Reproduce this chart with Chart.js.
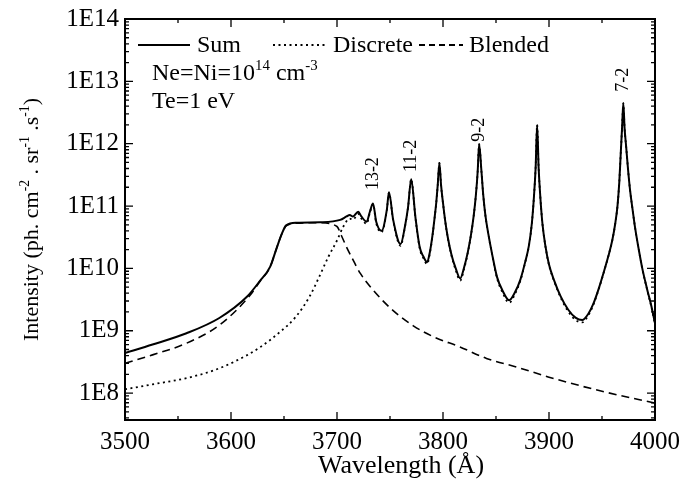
<!DOCTYPE html>
<html>
<head>
<meta charset="utf-8">
<script src="https://cdn.jsdelivr.net/npm/chart.js"></script>
<style>
	body { margin:0; background:#fff; }
	canvas { display:block; }
</style>
</head>
<body>
<canvas id="c" width="682" height="489"></canvas>
<script>
// wavelength (A) and intensity
const sumWl = [
	3500,3526,3558,3589,3615,3627,3637,3643,3648,3652,
	3662,3684,3703,3709,3712,3715,3720,3723,3728,3731,
	3734,3737,3742,3747,3749,3753,3760,3764,3767,3770,
	3774,3778,3781.5,3785,3787.5,3790,3792,3793.6,3795,3796.6,
	3798.2,3800,3802,3804.5,3808,3812,3816.2,3820,3823.5,3826.5,
	3829,3831,3832.7,3834.1,3836.3,3838,3840,3842.8,3846.2,3851,
	3856,3862.4,3868,3873,3877.5,3881,3883.8,3885.8,3887.4,3888.8,
	3890.2,3891.8,3893.8,3896.6,3900,3905,3911,3918,3925,3931.3,
	3937,3942,3947,3951.5,3956,3959.7,3962.5,3964.6,3966.3,3967.7,
	3969,3970.1,3971.3,3972.8,3974.5,3976.5,3978.8,3981.5,3984.5,3988,
	3992.5,3996.5,4000]
const sumI = [
	4.4e8,6.0e8,9.1e8,1.6e9,3.5e9,6.2e9,1.07e10,2.1e10,3.6e10,4.9e10,
	5.4e10,5.5e10,6.0e10,6.8e10,7.2e10,6.8e10,8.1e10,6.8e10,5.6e10,8.1e10,
	1.1e11,5.6e10,4.0e10,8.7e10,1.66e11,6.0e10,2.45e10,4.6e10,9.5e10,2.7e11,
	6.6e10,2.2e10,1.55e10,1.26e10,1.78e10,3.31e10,6.31e10,1.12e11,2.14e11,4.9e11,
	2.14e11,1.12e11,5.9e10,3.16e10,1.66e10,1.0e10,6.9e9,1.05e10,1.86e10,3.55e10,
	7.08e10,1.48e11,3.55e11,9.8e11,3.55e11,1.48e11,7.08e10,3.55e10,1.74e10,7.24e9,
	4.47e9,3.09e9,4.17e9,6.61e9,1.26e10,2.29e10,5.25e10,1.41e11,4.17e11,2.0e12,
	4.17e11,1.41e11,5.25e10,2.29e10,1.15e10,6.31e9,3.55e9,2.19e9,1.62e9,1.48e9,
	1.86e9,2.75e9,4.79e9,8.51e9,1.58e10,2.82e10,5.25e10,1.0e11,2.4e11,7.08e11,
	1.9e12,4.47e12,1.78e12,8.91e11,3.98e11,1.78e11,8.91e10,4.17e10,2.09e10,1.0e10,
	4.68e9,2.51e9,1.32e9]

const discWl = [
	3500,3526,3558,3583,3604,3627,3646,3661,3674,3683,
	3692,3700,3706,3712,3715,3720,3723,3728,3731,3734,
	3737,3742,3747,3749,3753,3760,3764,3767,3770,3774,
	3778,3781.5,3785,3787.5,3790,3792,3793.6,3795,3796.6,3798.2,
	3800,3802,3804.5,3808,3812,3816.2,3820,3823.5,3826.5,3829,
	3831,3832.7,3834.1,3836.3,3838,3840,3842.8,3846.2,3851,3856,
	3862.4,3868,3873,3877.5,3881,3883.8,3885.8,3887.4,3888.8,3890.2,
	3891.8,3893.8,3896.6,3900,3905,3911,3918,3925,3931.3,3937,
	3942,3947,3951.5,3956,3959.7,3962.5,3964.6,3966.3,3967.7,3969,
	3970.1,3971.3,3972.8,3974.5,3976.5,3978.8,3981.5,3984.5,3988,3992.5,
	3996.5,4000]
const discI = [
	1.15e8,1.38e8,1.74e8,2.29e8,3.24e8,5.37e8,9.5e8,1.66e9,3.5e9,7.2e9,
	1.55e10,2.8e10,4.7e10,6.3e10,6.0e10,7.5e10,6.3e10,5.2e10,7.8e10,1.08e11,
	5.3e10,3.8e10,8.5e10,1.64e11,5.8e10,2.3e10,4.5e10,9.4e10,2.7e11,6.5e10,
	2.1e10,1.46e10,1.17e10,1.7e10,3.23e10,6.23e10,1.11e11,2.13e11,4.9e11,2.13e11,
	1.11e11,5.83e10,3.1e10,1.6e10,9.4e9,6.35e9,9.98e9,1.81e10,3.5e10,7.04e10,
	1.48e11,3.55e11,9.8e11,3.55e11,1.48e11,7.04e10,3.51e10,1.71e10,6.92e9,4.17e9,
	2.81e9,3.9e9,6.36e9,1.24e10,2.27e10,5.23e10,1.41e11,4.17e11,2.0e12,4.17e11,
	1.41e11,5.23e10,2.27e10,1.13e10,6.14e9,3.39e9,2.05e9,1.49e9,1.36e9,1.75e9,
	2.64e9,4.69e9,8.41e9,1.57e10,2.81e10,5.24e10,1.0e11,2.4e11,7.08e11,1.9e12,
	4.47e12,1.78e12,8.91e11,3.98e11,1.78e11,8.9e10,4.16e10,2.08e10,9.92e9,4.6e9,
	2.44e9,1.25e9]

const blendWl = [3500,3526,3558,3589,3618,3627,3637,3643,3648,3652,3662,3684,3700,3704,3709,3715,3722,3734,3753,3772,3791,3816,3841,3870,3900,3950,4000]
const blendI = [3.0e8,4.1e8,6.3e8,1.23e9,3.7e9,6.1e9,1.06e10,2.1e10,3.6e10,4.8e10,5.3e10,5.4e10,4.7e10,3.4e10,2.2e10,1.38e10,8.3e9,4.5e9,2.1e9,1.2e9,8.0e8,5.5e8,3.6e8,2.6e8,1.8e8,1.07e8,6.9e7]

const xTicks = [3500,3600,3700,3800,3900,4000]
const yTicks = [1e8,1e9,1e10,1e11,1e12,1e13,1e14]
const peakLabel = ['13-2','11-2','9-2','7-2']
const peakWl = [3734,3770,3834,3970]
const peakLabelI = [1.8e11,3.5e11,1.07e12,6.8e12]

const serif = "'Liberation Serif', 'Times New Roman', serif"

// text with superscripts, parts = [[text, isSup], ...]
const supText = (ctx, parts, x, y, size) => {
	parts.forEach(([t, s]) => {
		ctx.font = (s ? size*0.62 : size) + 'px ' + serif
		ctx.fillText(t, x, s ? y - size*0.42 : y)
		x += ctx.measureText(t).width
	})
	return x
}
const supWidth = (ctx, parts, size) => parts.reduce((a, [t, s]) => {
	ctx.font = (s ? size*0.62 : size) + 'px ' + serif
	return a + ctx.measureText(t).width
}, 0)

const decor = {
	id: 'decor',
	afterDraw: c => {
		const { ctx, chartArea: a, scales: { x, y } } = c
		ctx.save()
		ctx.strokeStyle = '#000'
		ctx.fillStyle = '#000'

		// frame
		ctx.lineWidth = 2
		ctx.strokeRect(a.left, a.top, a.right - a.left, a.bottom - a.top)

		// inward ticks on all sides
		ctx.lineWidth = 1.3
		ctx.beginPath()
		for (let v = 3500; v <= 4000; v += 50) {
			const p = x.getPixelForValue(v), l = v % 100 ? 4 : 8
			ctx.moveTo(p, a.bottom); ctx.lineTo(p, a.bottom - l)
			ctx.moveTo(p, a.top); ctx.lineTo(p, a.top + l)
		}
		for (let k = 7; k <= 14; k++) for (let m = 1; m <= 9; m++) {
			const v = m * Math.pow(10, k)
			if (v < y.min || v > y.max * 1.0001) continue
			const p = y.getPixelForValue(v), l = m == 1 ? 8 : 4
			ctx.moveTo(a.left, p); ctx.lineTo(a.left + l, p)
			ctx.moveTo(a.right, p); ctx.lineTo(a.right - l, p)
		}
		ctx.stroke()

		// legend
		const ly = 45
		ctx.lineWidth = 1.8
		;[[138, 190, [], 'Sum', 197], [273, 326, [2, 3.5], 'Discrete', 333], [419, 463, [6, 4], 'Blended', 469]].forEach(([x0, x1, d, t, tx]) => {
			ctx.setLineDash(d)
			ctx.beginPath(); ctx.moveTo(x0, ly); ctx.lineTo(x1, ly); ctx.stroke()
			ctx.setLineDash([])
			ctx.font = '24px ' + serif
			ctx.textBaseline = 'middle'
			ctx.fillText(t, tx, ly + 1)
		})

		// conditions
		ctx.textBaseline = 'alphabetic'
		supText(ctx, [['Ne=Ni=10', 0], ['14', 1], [' cm', 0], ['-3', 1]], 152, 80, 24)
		supText(ctx, [['Te=1 eV', 0]], 152, 108, 24)

		// line labels
		peakLabel.forEach((t, i) => {
			ctx.save()
			ctx.translate(x.getPixelForValue(peakWl[i]), y.getPixelForValue(peakLabelI[i]))
			ctx.rotate(-Math.PI / 2)
			ctx.font = '18px ' + serif
			ctx.textAlign = 'left'
			ctx.textBaseline = 'middle'
			ctx.fillText(t, 0, 0)
			ctx.restore()
		})

		// axis titles
		ctx.font = '26px ' + serif
		ctx.textAlign = 'center'
		ctx.fillText('Wavelength (Å)', (a.left + a.right) / 2 + 11, 473)

		const yt = [['Intensity (ph. cm', 0], ['-2', 1], [' . sr', 0], ['-1', 1], [' .s', 0], ['-1', 1], [')', 0]]
		ctx.save()
		ctx.translate(38, (a.top + a.bottom) / 2)
		ctx.rotate(-Math.PI / 2)
		ctx.textAlign = 'left'
		supText(ctx, yt, -supWidth(ctx, yt, 22) / 2, 0, 22)
		ctx.restore()

		ctx.restore()
	}
}

const ds = (wl, val, o) => ({
	data: wl.map((a, b) => ({ x: a, y: val[b] })),
	borderColor: '#000', backgroundColor: '#000',
	pointRadius: 0, cubicInterpolationMode: 'monotone', fill: false, ...o
})

new Chart(document.getElementById('c'), {
	type: 'line',
	data: {
		datasets: [
			ds(sumWl, sumI, { label: 'Sum', borderWidth: 2 }),
			ds(discWl, discI, { label: 'Discrete', borderWidth: 1.8, borderDash: [2, 3.5] }),
			ds(blendWl, blendI, { label: 'Blended', borderWidth: 1.6, borderDash: [8, 5] }),
		]
	},
	options: {
		responsive: false,
		animation: false,
		devicePixelRatio: 1,
		layout: { padding: { top: 19, right: 27, left: 0, bottom: 0 } },
		plugins: { legend: { display: false }, tooltip: { enabled: false } },
		scales: {
			x: {
				type: 'linear', min: 3500, max: 4000,
				grid: { display: false, drawTicks: false },
				border: { display: false },
				afterBuildTicks: s => { s.ticks = xTicks.map(v => ({ value: v })) },
				ticks: { color: '#000', font: { family: serif, size: 25 }, padding: 7, maxRotation: 0, autoSkip: false,
					callback: v => String(v) },
				afterFit: s => { s.height = 489 - 420; s.paddingLeft = 0; s.paddingRight = 0 }
			},
			y: {
				type: 'logarithmic', min: 3.7e7, max: 1e14,
				grid: { display: false, drawTicks: false },
				border: { display: false },
				afterBuildTicks: s => { s.ticks = yTicks.map(v => ({ value: v })) },
				ticks: { color: '#000', font: { family: serif, size: 25 }, padding: 6, autoSkip: false,
					callback: v => '1E' + Math.round(Math.log10(v)) },
				afterFit: s => { s.width = 125; s.paddingTop = 0; s.paddingBottom = 0 }
			}
		}
	},
	plugins: [decor]
})
</script>
</body>
</html>
